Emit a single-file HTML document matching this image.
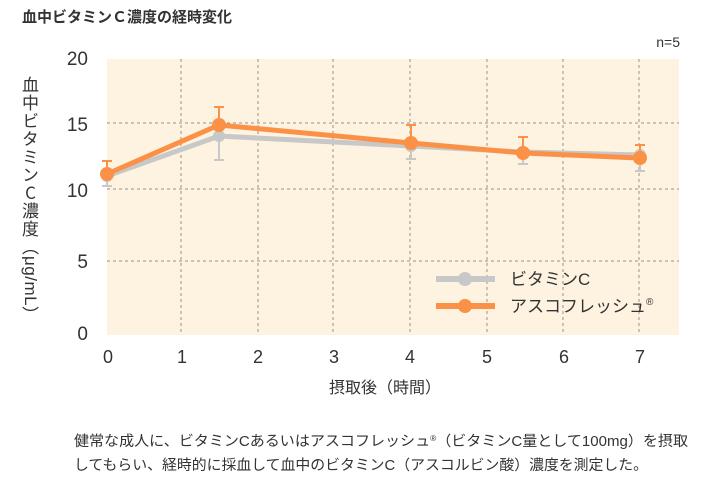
<!DOCTYPE html>
<html><head><meta charset="utf-8"><style>
body{margin:0;background:#fff;position:relative;width:720px;height:480px;overflow:hidden;}
svg text{font-family:"Liberation Sans","Noto Sans CJK JP",sans-serif;fill:#333;}
.yl{position:absolute;left:20px;top:76px;writing-mode:vertical-rl;font-family:"Noto Sans CJK JP",sans-serif;font-size:17px;color:#333;line-height:20px;white-space:nowrap;letter-spacing:1px;}
.up{text-orientation:upright;}
.lat{font-family:"Liberation Sans",sans-serif;letter-spacing:0.5px;}
</style></head><body>
<svg width="720" height="480" viewBox="0 0 720 480" xmlns="http://www.w3.org/2000/svg" style="position:absolute;left:0;top:0">
<text x="22" y="22" font-size="15" font-weight="bold">血中ビタミンＣ濃度の経時変化</text>
<text x="680" y="47" font-size="14" text-anchor="end">n=5</text>
<rect x="107" y="59" width="572" height="276" fill="#fdf3e0"/>
<g stroke="#9a9087" stroke-width="1" stroke-dasharray="3,3">
<line x1="107" y1="123" x2="679" y2="123"/><line x1="107" y1="189" x2="679" y2="189"/><line x1="107" y1="261" x2="679" y2="261"/>
<line x1="181" y1="59" x2="181" y2="335"/><line x1="258" y1="59" x2="258" y2="335"/><line x1="333" y1="59" x2="333" y2="335"/><line x1="410" y1="59" x2="410" y2="335"/><line x1="487" y1="59" x2="487" y2="335"/><line x1="563" y1="59" x2="563" y2="335"/><line x1="639" y1="59" x2="639" y2="335"/>
</g>
<g font-size="19" text-anchor="end">
<text x="88" y="65">20</text><text x="88" y="131">15</text><text x="88" y="197">10</text><text x="88" y="268">5</text><text x="88" y="340">0</text>
</g>
<g font-size="18" text-anchor="middle">
<text x="108" y="363">0</text><text x="182" y="363">1</text><text x="258" y="363">2</text><text x="334" y="363">3</text><text x="410" y="363">4</text><text x="487" y="363">5</text><text x="564" y="363">6</text><text x="640" y="363">7</text>
</g>
<text x="385" y="393" font-size="16" text-anchor="middle">摂取後（時間）</text>
<g stroke="#c8c8c8" stroke-width="2" fill="none">
<path d="M107,174V186M102,186H112M219,136V160M214,160H224M411,146V159M406,159H416M523,152V164M518,164H528M640,155V171M635,171H645"/>
</g>
<polyline points="107,176 219,136 411,146 523,152 640,155" fill="none" stroke="#c8c8c8" stroke-width="5"/>
<g fill="#c8c8c8"><circle cx="107" cy="176" r="6"/><circle cx="219" cy="136" r="6"/><circle cx="411" cy="146" r="6"/><circle cx="523" cy="152" r="6"/><circle cx="640" cy="155" r="6"/></g>
<g stroke="#fb9146" stroke-width="2" fill="none">
<path d="M107,174V161M102,161H112M219,125V107M214,107H224M411,143V125M406,125H416M523,153V137M518,137H528M640,158V145M635,145H645"/>
</g>
<polyline points="107,174 219,125 411,143 523,153 640,158" fill="none" stroke="#fb9146" stroke-width="5"/>
<g fill="#fb9146"><circle cx="107" cy="174" r="7"/><circle cx="219" cy="125" r="7"/><circle cx="411" cy="143" r="7"/><circle cx="523" cy="153" r="7"/><circle cx="640" cy="158" r="7"/></g>
<line x1="436" y1="279" x2="495" y2="279" stroke="#c8c8c8" stroke-width="6"/><circle cx="465" cy="279" r="7" fill="#c8c8c8"/>
<text x="510" y="285" font-size="17">ビタミンC</text>
<line x1="436" y1="306" x2="495" y2="306" stroke="#fb9146" stroke-width="6"/><circle cx="465" cy="306" r="7" fill="#fb9146"/>
<text x="510" y="312" font-size="17">アスコフレッシュ<tspan font-size="10" dy="-7">®</tspan></text>
<text x="74" y="446" font-size="14.5" textLength="614" lengthAdjust="spacingAndGlyphs">健常な成人に、ビタミンCあるいはアスコフレッシュ<tspan font-size="8" dy="-5">®</tspan><tspan dy="5">（ビタミンC量として100mg）を摂取</tspan></text>
<text x="74" y="470" font-size="14.5" textLength="574" lengthAdjust="spacingAndGlyphs">してもらい、経時的に採血して血中のビタミンC（アスコルビン酸）濃度を測定した。</text>
</svg>
<div class="yl">血中ビタミン<span class="up">C</span>濃度（<span class="lat">μg/mL</span>）</div>
</body></html>
